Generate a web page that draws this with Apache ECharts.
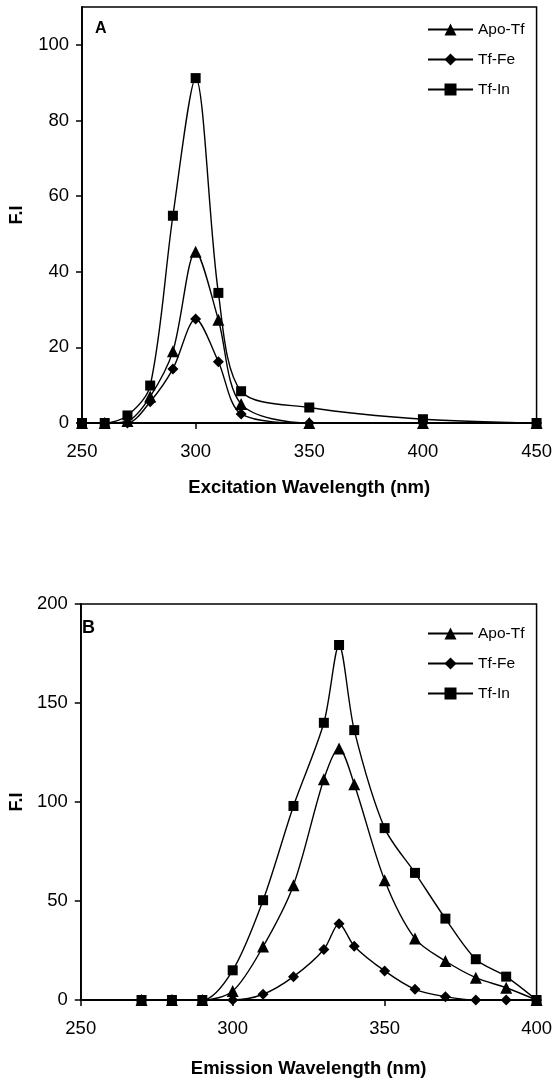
<!DOCTYPE html>
<html>
<head>
<meta charset="utf-8">
<script src="https://cdn.jsdelivr.net/npm/echarts@6/dist/echarts.min.js"></script>
<style>
  html, body { margin: 0; padding: 0; background: #fff; }
  #chart { width: 555px; height: 1084px; }
</style>
</head>
<body>
<div id="chart"></div>
<script>
  // chart A: excitation
  const exWavelength = [250, 260, 270, 280, 290, 300, 310, 320, 350, 400, 450];
  const exApoTf = [0, 0, 0.5, 7, 19, 45.3, 27.3, 5, 0, 0, 0];
  const exTfFe = [0, 0, 0, 5.6, 14.3, 27.5, 16.2, 2.4, 0, 0, 0];
  const exTfIn = [0, 0, 2, 9.9, 54.8, 91.2, 34.4, 8.4, 4.1, 1, 0];
  const exYTicks = [0, 20, 40, 60, 80, 100];

  // chart B: emission
  const emWavelength = [270, 280, 290, 300, 310, 320, 330, 335, 340, 350, 360, 370, 380, 390, 400];
  const emApoTf = [0, 0, 0, 4.5, 27, 58, 111.5, 127, 109, 60.5, 31, 19.7, 11.3, 6.2, 0];
  const emTfFe = [0, 0, 0, 0, 2.9, 11.8, 25.5, 38.5, 27.2, 14.7, 5.4, 1.7, 0, 0, 0];
  const emTfIn = [0, 0, 0, 15, 50.4, 98, 140, 179.3, 136.3, 86.8, 64.2, 41.1, 20.6, 11.8, 0];
  const emYTicks = [0, 50, 100, 150, 200];

  const seriesNames = ['Apo-Tf', 'Tf-Fe', 'Tf-In'];
  const symbols = ['triangle', 'diamond', 'rect'];
  const symbolSizes = [12, 11, 10];

  const FONT = '"Liberation Sans", Arial, sans-serif';

  function pairs(xs, ys) {
    return xs.map((x, i) => [x, ys[i]]);
  }

  function makeSeries(gridIdx, xs, lists) {
    return lists.map((ys, i) => ({
      name: seriesNames[i],
      type: 'line',
      xAxisIndex: gridIdx,
      yAxisIndex: gridIdx,
      smooth: 0.3,
      symbol: symbols[i],
      symbolSize: symbolSizes[i],
      showAllSymbol: true,
      itemStyle: { color: '#000' },
      lineStyle: { color: '#000', width: 1.4 },
      data: pairs(xs, ys),
      animation: false
    }));
  }

  function xAxisOf(gridIdx, min, max, name, gap) {
    return {
      type: 'value',
      gridIndex: gridIdx,
      min: min,
      max: max,
      interval: 50,
      name: name,
      nameLocation: 'middle',
      nameGap: gap,
      nameTextStyle: { fontFamily: FONT, fontSize: 18.5, fontWeight: 'bold', color: '#000' },
      axisLine: { lineStyle: { color: '#000', width: 1.8 } },
      axisTick: { inside: false, length: 6, lineStyle: { color: '#000', width: 1.5 } },
      axisLabel: { fontFamily: FONT, fontSize: 18.5, color: '#000', margin: 19 },
      splitLine: { show: false }
    };
  }

  function yAxisOf(gridIdx, max, interval, ticks, gap) {
    return {
      type: 'value',
      gridIndex: gridIdx,
      min: 0,
      max: max,
      interval: interval,
      name: 'F.I',
      nameLocation: 'middle',
      nameGap: gap,
      nameTextStyle: { fontFamily: FONT, fontSize: 18, fontWeight: 'bold', color: '#000' },
      axisLine: { lineStyle: { color: '#000', width: 1.8 } },
      axisTick: { inside: false, length: 6, lineStyle: { color: '#000', width: 1.5 }, customValues: ticks },
      axisLabel: { fontFamily: FONT, fontSize: 18.5, color: '#000', margin: 13, customValues: ticks },
      splitLine: { show: false }
    };
  }

  function legendOf(top) {
    return {
      data: seriesNames,
      orient: 'vertical',
      left: 427,
      top: top,
      padding: 0,
      itemWidth: 45,
      itemHeight: 15,
      itemGap: 14,
      textStyle: { fontFamily: FONT, fontSize: 15.5, lineHeight: 15, color: '#000' }
    };
  }

  const chart = echarts.init(document.getElementById('chart'));

  const option = {
    backgroundColor: '#fff',
    grid: [
      { left: 81, right: 17, top: 7, height: 416, show: true, borderColor: '#000', borderWidth: 1.5 },
      { left: 74, right: 15, top: 604, height: 396, show: true, borderColor: '#000', borderWidth: 1.5 }
    ],
    xAxis: [
      xAxisOf(0, 250, 450, 'Excitation Wavelength (nm)', 55),
      xAxisOf(1, 250, 400, 'Emission Wavelength (nm)', 59)
    ],
    yAxis: [
      yAxisOf(0, 110, 20, exYTicks, 56),
      yAxisOf(1, 200, 50, emYTicks, 54)
    ],
    legend: [legendOf(21.5), legendOf(625.5)],
    graphic: [
      { type: 'text', left: 95, top: 21, style: { text: 'A', font: 'bold 16px ' + FONT, fill: '#000' } },
      { type: 'text', left: 82, top: 619, style: { text: 'B', font: 'bold 18px ' + FONT, fill: '#000' } }
    ],
    series: makeSeries(0, exWavelength, [exApoTf, exTfFe, exTfIn])
      .concat(makeSeries(1, emWavelength, [emApoTf, emTfFe, emTfIn]))
  };

  chart.setOption(option);
</script>
</body>
</html>
